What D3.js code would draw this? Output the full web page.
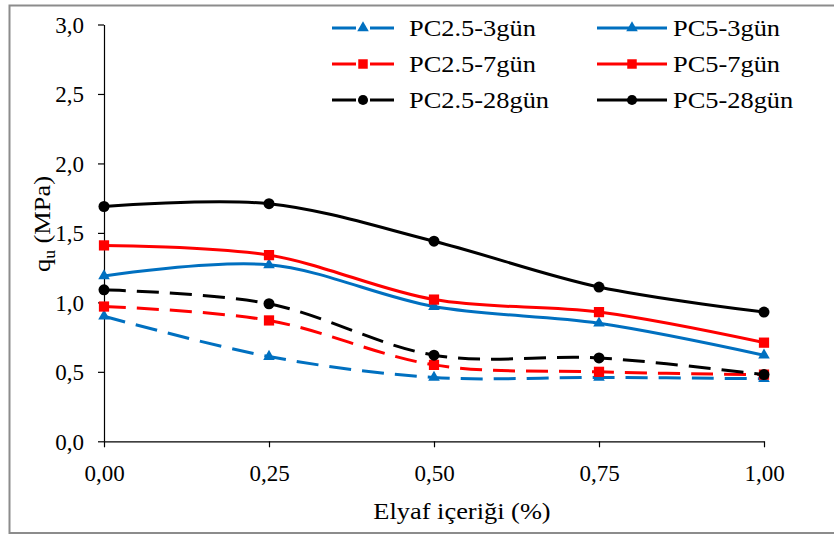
<!DOCTYPE html>
<html>
<head>
<meta charset="utf-8">
<script src="https://cdn.jsdelivr.net/npm/d3@7"></script>
<style>
	body { margin: 0; background: #fff; }
	svg { display: block; }
	svg text { font-family: 'Times New Roman', 'Liberation Serif', Tinos, Times, serif; fill: #000; }
</style>
</head>
<body>
<div id="chart"></div>
<script>
// fiber content (%) and q_u values (MPa)
var fiber = [0, 0.25, 0.5, 0.75, 1.0];
var pc25_3 = [0.90, 0.61, 0.46, 0.46, 0.45];
var pc5_3 = [1.19, 1.27, 0.97, 0.85, 0.62];
var pc25_7 = [0.97, 0.87, 0.55, 0.50, 0.48];
var pc5_7 = [1.41, 1.34, 1.02, 0.93, 0.71];
var pc25_28 = [1.09, 0.99, 0.62, 0.60, 0.48];
var pc5_28 = [1.69, 1.71, 1.44, 1.11, 0.93];

var xTicks = [0, 0.25, 0.5, 0.75, 1.0];
var yTicks = [0, 0.5, 1.0, 1.5, 2.0, 2.5, 3.0];

var series = [
	{name: 'PC2.5-3gün', values: pc25_3, color: '#0070C0', dashed: true, symbol: d3.symbolTriangle},
	{name: 'PC5-3gün', values: pc5_3, color: '#0070C0', dashed: false, symbol: d3.symbolTriangle},
	{name: 'PC2.5-7gün', values: pc25_7, color: '#FF0000', dashed: true, symbol: d3.symbolSquare},
	{name: 'PC5-7gün', values: pc5_7, color: '#FF0000', dashed: false, symbol: d3.symbolSquare},
	{name: 'PC2.5-28gün', values: pc25_28, color: '#000000', dashed: true, symbol: d3.symbolCircle},
	{name: 'PC5-28gün', values: pc5_28, color: '#000000', dashed: false, symbol: d3.symbolCircle}
];

var width = 834, height = 535;
var comma = function(n, d) { return n.toFixed(d).replace('.', ','); };

var svg = d3.select('#chart').append('svg')
	.attr('width', width)
	.attr('height', height);

// outer frame
svg.append('rect')
	.attr('x', 9.5).attr('y', 5.5)
	.attr('width', 840).attr('height', 527.5)
	.attr('fill', 'none')
	.attr('stroke', '#8c8c8c')
	.attr('stroke-width', 2);

var x = d3.scaleLinear().domain([0, 1]).range([104, 764]);
var y = d3.scaleLinear().domain([0, 3]).range([441.3, 24.5]);

function symbolSize(sym, legend) {
	if (sym === d3.symbolTriangle) return legend ? 58 : 58;
	if (sym === d3.symbolSquare) return legend ? 90 : 105;
	return legend ? 80 : 95;
}

// axes
var xAxis = d3.axisBottom(x).tickValues(xTicks).tickSize(6).tickSizeOuter(0).tickPadding(12)
	.tickFormat(function(d) { return comma(d, 2); });
var yAxis = d3.axisLeft(y).tickValues(yTicks).tickSize(6).tickSizeOuter(0).tickPadding(14)
	.tickFormat(function(d) { return comma(d, 1); });

var gx = svg.append('g')
	.attr('transform', 'translate(0,' + y(0) + ')')
	.call(xAxis);
var gy = svg.append('g')
	.attr('transform', 'translate(' + x(0) + ',0)')
	.call(yAxis);

[gx, gy].forEach(function(g) {
	g.attr('font-family', null).attr('font-size', null);
	g.selectAll('path, line').attr('stroke', '#000').attr('stroke-width', 1.2);
	g.selectAll('text').style('font-size', '23px');
});
gx.selectAll('text').attr('dy', '0.95em');
gy.selectAll('text').attr('dy', '0.34em');

// series lines
var line = d3.line()
	.curve(d3.curveCatmullRom.alpha(0))
	.x(function(d, i) { return x(fiber[i]); })
	.y(function(d) { return y(d); });

var plot = svg.append('g');

series.forEach(function(s) {
	plot.append('path')
		.datum(s.values)
		.attr('fill', 'none')
		.attr('stroke', s.color)
		.attr('stroke-width', 3)
		.attr('stroke-dasharray', s.dashed ? '22,11' : null)
		.attr('d', line);
});

series.forEach(function(s) {
	plot.selectAll(null)
		.data(s.values)
		.enter().append('path')
		.attr('transform', function(d, i) { return 'translate(' + x(fiber[i]) + ',' + y(d) + ')'; })
		.attr('d', d3.symbol().type(s.symbol).size(symbolSize(s.symbol, false)))
		.attr('fill', s.color);
});

// legend
var legendRows = [28, 64, 100];
var legendCols = [{x1: 332, x2: 394, tx: 409}, {x1: 597, x2: 667, tx: 673}];

series.forEach(function(s, i) {
	var col = legendCols[i % 2];
	var ry = legendRows[Math.floor(i / 2)];
	var lg = svg.append('g');
	lg.append('line')
		.attr('x1', col.x1).attr('x2', col.x2)
		.attr('y1', ry).attr('y2', ry)
		.attr('stroke', s.color)
		.attr('stroke-width', 3)
		.attr('stroke-dasharray', s.dashed ? '24,14' : null);
	lg.append('path')
		.attr('transform', 'translate(' + (col.x1 + col.x2) / 2 + ',' + ry + ')')
		.attr('d', d3.symbol().type(s.symbol).size(symbolSize(s.symbol, true)))
		.attr('fill', s.color);
	lg.append('text')
		.attr('transform', 'translate(' + col.tx + ',' + (ry + 8) + ') scale(1.1,1)')
		.style('font-size', '24px')
		.text(s.name);
});

// axis titles
svg.append('text')
	.attr('transform', 'translate(462,519) scale(1.1,1)')
	.attr('text-anchor', 'middle')
	.style('font-size', '24px')
	.text('Elyaf içeriği (%)');

var yt = svg.append('text')
	.attr('transform', 'translate(50,224) rotate(-90) scale(1.1,1)')
	.attr('text-anchor', 'middle')
	.style('font-size', '24px');
yt.append('tspan').text('q');
yt.append('tspan').attr('dy', 5).style('font-size', '16px').text('u');
yt.append('tspan').attr('dy', -5).text(' (MPa)');
</script>
</body>
</html>
